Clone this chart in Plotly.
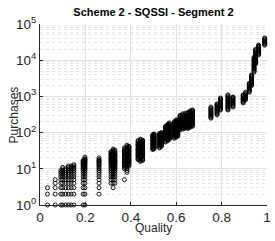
import plotly.graph_objects as go

# Quality value of each column of points, and the purchases observed in that column
quality = [0.033, 0.067, 0.092, 0.100, 0.113, 0.125, 0.137, 0.149, 0.190, 0.198,
           0.260, 0.313, 0.322, 0.330, 0.372, 0.383, 0.392, 0.432, 0.442, 0.452,
           0.497, 0.503, 0.527, 0.535, 0.553, 0.563, 0.570, 0.592, 0.600, 0.607,
           0.617, 0.628, 0.638, 0.652, 0.662, 0.672, 0.753, 0.780, 0.795, 0.828,
           0.850, 0.895, 0.905, 0.922, 0.932, 0.943, 0.950, 0.963, 0.990]

purchases = [
    [1, 2, 3],
    [1, 2, 3, 4, 5],
    [1, 2, 3, 4, 5, 6, 7, 8, 9],
    [1, 2, 3, 4, 5, 6, 7, 8, 9, 10, 11],
    [1, 2, 3, 4, 5, 6, 7, 8, 9, 10],
    [1, 2, 3, 4, 5, 6, 7, 8, 9, 10, 11, 12],
    [1, 2, 3, 4, 5, 6, 7, 8, 9, 10, 11, 12],
    [1, 2, 3, 4, 5, 6, 7, 8, 9, 10, 11, 12, 13],
    [1, 2, 3, 4, 5, 6, 7, 8, 9, 10, 11, 12, 13, 14, 15, 16, 17],
    [1, 2, 3, 4, 5, 6, 7, 8, 9, 10, 11, 12, 13, 14, 15, 16, 17, 18, 19, 21],
    [2, 3, 4, 5, 6, 7, 8, 9, 10, 11, 12, 13, 14, 15, 16, 17, 18, 20],
    [4, 5, 6, 7, 8, 9, 10, 11, 12, 13, 14, 15, 16, 17, 18, 19, 20, 22, 23, 25, 26, 28, 30],
    [3, 4, 5, 6, 7, 8, 9, 10, 11, 12, 13, 14, 15, 16, 17, 18, 19, 20, 22, 24, 25, 27, 28, 30, 32, 35],
    [4, 5, 6, 7, 8, 9, 10, 11, 12, 13, 14, 15, 16, 17, 18, 20, 21, 23, 24, 26, 27, 30, 33],
    [5, 10, 11, 12, 13, 14, 15, 16, 17, 18, 20, 21, 23, 24, 26, 28, 30, 32, 35, 38],
    [8, 9, 10, 11, 12, 13, 14, 15, 16, 17, 18, 19, 21, 22, 24, 25, 27, 29, 31, 33, 36, 38, 41, 45],
    [12, 13, 14, 15, 16, 17, 18, 19, 21, 22, 24, 25, 27, 29, 31, 33, 36, 38, 40, 42],
    [18, 19, 20, 22, 23, 25, 26, 28, 30, 32, 34, 36, 39, 42, 45, 48, 52, 56, 60],
    [16, 17, 18, 19, 20, 22, 23, 25, 26, 28, 30, 32, 34, 36, 39, 42, 45, 48, 51, 54, 58, 62, 66],
    [17, 18, 19, 21, 22, 24, 25, 27, 28, 30, 32, 35, 37, 40, 42, 45, 48, 52, 55, 58, 62],
    [34, 36, 38, 40, 43, 46, 49, 52, 55, 58, 62, 66, 70, 74, 78, 83, 88],
    [36, 38, 41, 43, 46, 49, 52, 55, 59, 62, 66, 70, 74, 78, 83, 88, 92],
    [38, 40, 43, 45, 48, 51, 54, 57, 61, 65, 69, 73, 77, 81, 86, 90, 95],
    [42, 44, 47, 50, 53, 56, 60, 63, 67, 71, 75, 80, 84, 89, 93, 97, 100],
    [55, 58, 62, 66, 70, 74, 79, 84, 89, 94, 100, 106, 112, 119, 126, 133, 141, 150],
    [60, 64, 68, 72, 76, 81, 86, 91, 97, 103, 109, 115, 122, 129, 137, 145, 154, 162, 170],
    [65, 69, 73, 77, 82, 87, 92, 98, 104, 110, 117, 124, 131, 139, 147, 156, 165, 175, 185],
    [70, 74, 79, 84, 89, 94, 100, 106, 112, 119, 126, 134, 142, 151, 160, 170, 180, 190, 200],
    [75, 80, 84, 90, 95, 101, 107, 113, 120, 127, 135, 143, 152, 161, 171, 182, 193, 205, 215, 225],
    [80, 85, 90, 95, 101, 107, 114, 121, 128, 136, 144, 153, 162, 172, 182, 195, 210],
    [120, 127, 135, 143, 152, 161, 171, 181, 192, 204, 216, 229, 243, 258, 273, 287, 300],
    [125, 133, 141, 149, 158, 168, 178, 189, 200, 212, 225, 239, 253, 269, 285, 305, 330],
    [130, 138, 146, 155, 164, 174, 185, 196, 208, 220, 234, 248, 263, 279, 296, 315, 340],
    [130, 138, 146, 155, 164, 174, 185, 196, 208, 220, 234, 248, 263, 279, 296, 312, 330, 345, 360],
    [140, 148, 157, 167, 177, 188, 199, 211, 224, 238, 252, 267, 283, 300, 318, 338, 358, 380, 400],
    [150, 159, 169, 179, 190, 202, 214, 227, 240, 255, 270, 287, 304, 322, 342, 362, 385, 405, 420],
    [250, 265, 280, 297, 315, 334, 355, 376, 400, 424, 450, 478, 510],
    [310, 329, 350, 371, 395, 419, 445, 472, 500, 530, 560, 590, 620],
    [420, 445, 470, 500, 530, 565, 600, 635, 670, 715, 760, 805, 850, 900],
    [420, 445, 470, 500, 530, 565, 600, 635, 670, 715, 760, 805, 850, 905, 960, 1030, 1100],
    [510, 540, 570, 605, 640, 680, 720, 765, 810, 855, 900, 930, 960],
    [660, 700, 740, 785, 830, 880, 930, 990, 1050, 1100],
    [800, 850, 900, 955, 1010, 1070, 1130, 1210, 1300],
    [1300, 1380, 1460, 1550, 1640, 1740, 1840, 1950, 2070, 2180, 2300],
    [2000, 2120, 2250, 2390, 2530, 2680, 2840, 3010, 3190, 3380, 3580, 3750, 3900],
    [4700, 5000, 5300, 5620, 5950, 6320, 6700, 7100, 7500, 7950, 8400, 8900, 9400,
     9950, 10500, 11200, 12000],
    [8000, 8500, 9000, 9550, 10100, 10700, 11300, 12000, 12700, 13500, 14300, 15100,
     16000, 17000, 18000, 19000, 20000],
    [14000, 14800, 15700, 16600, 17600, 18600, 19700, 20800, 22000, 23000, 24000, 25000, 26000],
    [26000, 27500, 29000, 30700, 32500, 34500, 36500, 38700, 41000],
]

y_tick_vals = [1, 10, 100, 1000, 10000, 100000]
y_tick_text = ["10<sup>0</sup>", "10<sup>1</sup>", "10<sup>2</sup>",
               "10<sup>3</sup>", "10<sup>4</sup>", "10<sup>5</sup>"]
x_tick_vals = [0, 0.2, 0.4, 0.6, 0.8, 1]
x_tick_text = ["0", "0.2", "0.4", "0.6", "0.8", "1"]

xs, ys = [], []
for q, vals in zip(quality, purchases):
    for v in vals:
        xs.append(q)
        ys.append(v)

fig = go.Figure()
fig.add_trace(go.Scatter(
    x=xs, y=ys, mode="markers", cliponaxis=False,
    marker=dict(symbol="circle-open", size=4, color="black",
                line=dict(width=0.9, color="black")),
    showlegend=False,
))

font = "Liberation Sans, Arial, sans-serif"
axis_col = "#262626"
grid_col = "#e3e3e3"

fig.update_layout(
    width=275, height=241,
    margin=dict(l=40, r=8, t=24, b=36, autoexpand=False),
    paper_bgcolor="white", plot_bgcolor="white",
    font=dict(family=font, color=axis_col),
    title=dict(text="<b>Scheme 2 - SQSSI - Segment 2</b>", x=0.558, xanchor="center",
               y=0.95, yanchor="middle", font=dict(size=11, color="black")),
    annotations=[
        dict(text="Quality", xref="paper", yref="paper", x=0.5, y=-0.125,
             xanchor="center", yanchor="middle", showarrow=False,
             font=dict(size=12, color=axis_col)),
        dict(text="Purchases", xref="paper", yref="paper", x=-0.115, y=0.5,
             xanchor="center", yanchor="middle", showarrow=False, textangle=-90,
             font=dict(size=12, color=axis_col)),
    ],
)
fig.update_xaxes(
    range=[0, 1], tickvals=x_tick_vals, ticktext=x_tick_text, automargin=False,
    tickfont=dict(size=13.5, color=axis_col),
    showline=True, linecolor=axis_col, linewidth=1,
    ticks="inside", ticklen=3, tickcolor=axis_col,
    showgrid=True, gridcolor=grid_col, gridwidth=1,
    zeroline=False, mirror=False,
)
fig.update_yaxes(
    type="log", range=[0, 5], tickvals=y_tick_vals, ticktext=y_tick_text, automargin=False,
    tickfont=dict(size=13.5, color=axis_col),
    showline=True, linecolor=axis_col, linewidth=1,
    ticks="inside", ticklen=3, tickcolor=axis_col,
    showgrid=True, gridcolor=grid_col, gridwidth=1,
    minor=dict(dtick="D1", showgrid=True, gridcolor="#e6e6e6", griddash="dot",
               ticks=""),
    zeroline=False, mirror=False,
)

fig.write_html("out.html", config={"displayModeBar": False},
               post_script="document.body.style.margin='0px';"
                           "document.body.style.overflow='hidden';")
